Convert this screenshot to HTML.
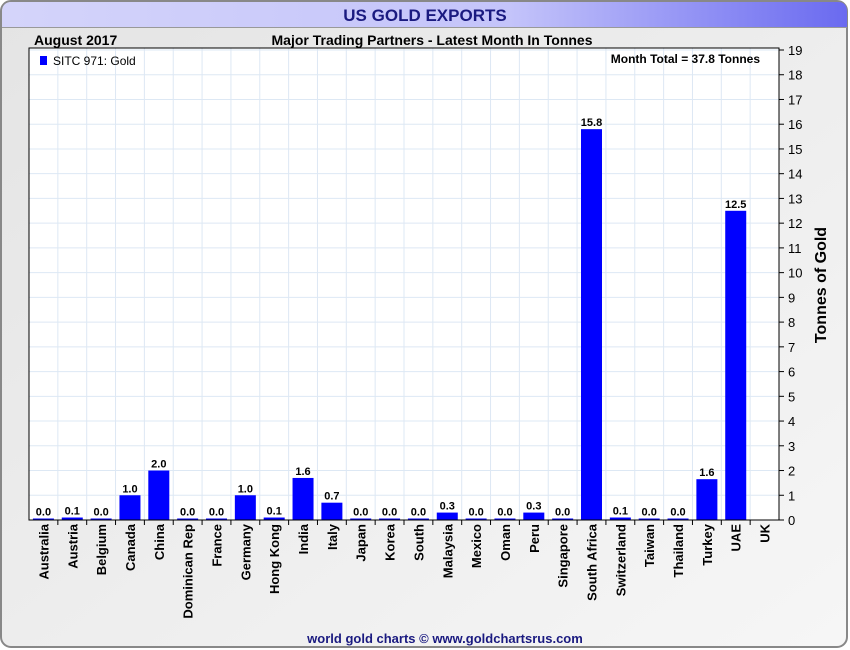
<!DOCTYPE html>
<html><head><meta charset="utf-8"><style>
html,body{margin:0;padding:0;width:850px;height:650px;overflow:hidden;background:#fff;font-family:"Liberation Sans",sans-serif}
</style></head><body>
<svg id="chart" width="850" height="650" xmlns="http://www.w3.org/2000/svg" font-family="Liberation Sans, sans-serif">
<defs>
<linearGradient id="frame" x1="0" y1="0" x2="1" y2="1"><stop offset="0" stop-color="#e4e4e4"/><stop offset="1" stop-color="#f6f6f6"/></linearGradient>
<linearGradient id="title" x1="0" y1="0" x2="1" y2="0"><stop offset="0" stop-color="#d4d4fa"/><stop offset="0.6" stop-color="#c4c4fa"/><stop offset="1" stop-color="#6a6af0"/></linearGradient>
</defs>
<rect x="1" y="1" width="846" height="646" rx="10" fill="url(#frame)" stroke="#888" stroke-width="2"/>
<path d="M2,27 V12 Q2,2 12,2 H838 Q847,2 847,12 V27 Z" fill="url(#title)"/>
<line x1="2" y1="27.5" x2="847" y2="27.5" stroke="#999"/>
<text x="425" y="21" text-anchor="middle" font-size="17" font-weight="bold" fill="#1a1a80">US GOLD EXPORTS</text>
<text x="34" y="45" font-size="14" font-weight="bold" fill="#000">August 2017</text>
<text x="432" y="45" text-anchor="middle" font-size="14" font-weight="bold" fill="#000">Major Trading Partners - Latest Month In Tonnes</text>
<rect x="29" y="48" width="750" height="472" fill="#fff"/>
<g id="grid"></g>
<g id="bars"></g>
<rect x="29" y="48" width="750" height="472" fill="none" stroke="#000" stroke-width="1"/>
<g id="yaxis"></g>
<g id="xaxis"></g>
<rect x="40" y="56" width="7" height="9" fill="#0000ff"/>
<text x="53" y="65" font-size="12" fill="#000">SITC 971: Gold</text>
<text x="760" y="63" text-anchor="end" font-size="12" font-weight="bold" fill="#000">Month Total = 37.8 Tonnes</text>
<text transform="translate(826,285) rotate(-90)" text-anchor="middle" font-size="16" font-weight="bold" fill="#000">Tonnes of Gold</text>
<text x="445" y="643" text-anchor="middle" font-size="13" font-weight="bold" fill="#1a1a80">world gold charts © www.goldchartsrus.com</text>
</svg>
<script>
const categories=["Australia","Austria","Belgium","Canada","China","Dominican Rep","France","Germany","Hong Kong","India","Italy","Japan","Korea","South","Malaysia","Mexico","Oman","Peru","Singapore","South Africa","Switzerland","Taiwan","Thailand","Turkey","UAE","UK"];
const values=[0.04,0.1,0.0,1.0,2.0,0.0,0.05,1.0,0.1,1.7,0.7,0.04,0.04,0.04,0.3,0.04,0.0,0.3,0.0,15.8,0.1,0.0,0.0,1.65,12.5,null];
const valueLabels=["0.0","0.1","0.0","1.0","2.0","0.0","0.0","1.0","0.1","1.6","0.7","0.0","0.0","0.0","0.3","0.0","0.0","0.3","0.0","15.8","0.1","0.0","0.0","1.6","12.5",""];
const yTicks=[0,1,2,3,4,5,6,7,8,9,10,11,12,13,14,15,16,17,18,19];
const NS="http://www.w3.org/2000/svg";
const T=50,B=520,YMAX=19,L=29,W=750;
const bw=W/categories.length;
function x(i){return L+bw/2+i*bw;}
function y(v){return B-(v/YMAX)*(B-T);}
function mk(tag,a,p){const e=document.createElementNS(NS,tag);for(const k in a)e.setAttribute(k,a[k]);p.appendChild(e);return e;}
const grid=document.getElementById('grid'),bars=document.getElementById('bars'),ya=document.getElementById('yaxis'),xa=document.getElementById('xaxis');
yTicks.forEach(t=>{
  const gl=mk('line',{x1:29,x2:779,y1:y(t),y2:y(t),stroke:'#dde8f4','stroke-width':1},grid);
  
  
  mk('line',{x1:779,x2:784,y1:y(t),y2:y(t),stroke:'#000'},ya);
  const tl=mk('text',{x:788,y:y(t)+5,'font-size':13,fill:'#000'},ya);
  tl.textContent=t;
  
  
});
categories.forEach((c,i)=>{
  const gx=x(i)+bw/2;
  if(i<categories.length-1){
    const gl=mk('line',{x1:gx,x2:gx,y1:48,y2:520,stroke:'#dde8f4','stroke-width':1},grid);
    
    
    mk('line',{x1:gx,x2:gx,y1:520,y2:525,stroke:'#000'},xa);
  }
  const cl=mk('text',{transform:`translate(${x(i)+5},524) rotate(-90)`,'text-anchor':'end','font-size':13,'font-weight':'bold',fill:'#000'},xa);
  cl.textContent=c;
  
  
  const v=values[i];
  if(v===null)return;
  const h=Math.max(B-y(v),1.5);
  const r=mk('rect',{x:x(i)-10.5,y:B-h,width:21,height:h,fill:'#0000ff'},bars);
  
  
  const vl=mk('text',{x:x(i),y:B-h-3,'text-anchor':'middle','font-size':11,'font-weight':'bold',fill:'#000'},bars);
  vl.textContent=valueLabels[i];
  
  
});
</script>
</body></html>
